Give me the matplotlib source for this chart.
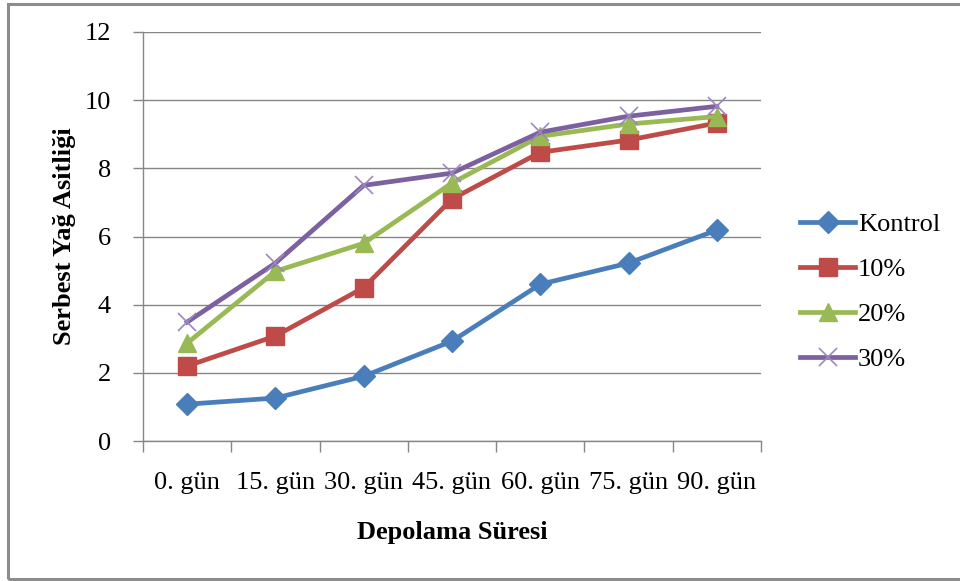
import matplotlib

matplotlib.use("Agg")

import matplotlib.pyplot as plt
from matplotlib.patches import Rectangle

# Veri
gunler = ["0. gün", "15. gün", "30. gün", "45. gün", "60. gün", "75. gün", "90. gün"]
kontrol = [1.08, 1.26, 1.90, 2.93, 4.60, 5.22, 6.19]
yuzde10 = [2.20, 3.08, 4.50, 7.10, 8.47, 8.83, 9.33]
yuzde20 = [2.87, 4.98, 5.80, 7.57, 8.94, 9.30, 9.52]
yuzde30 = [3.49, 5.22, 7.50, 7.86, 9.06, 9.53, 9.82]
seri_adlari = ["Kontrol", "10%", "20%", "30%"]

GRI = "#868686"
plt.rcParams["font.family"] = ["Liberation Serif", "DejaVu Serif"]

fig = plt.figure(figsize=(9.6, 5.81), dpi=100)
ax = fig.add_axes([143 / 960, 1 - 441 / 581, (761 - 143) / 960, (441 - 32) / 581])

# dış çerçeve
fig.patches.append(Rectangle((8 / 960, 2 / 581), 1.2, 575 / 581, transform=fig.transFigure,
                             fill=False, edgecolor="#8c8c8c", linewidth=2.2, zorder=0))

x = list(range(len(gunler)))
stiller = [
    (kontrol, "#4a7ebb", "D", 11, dict()),
    (yuzde10, "#be4b48", "s", 13, dict()),
    (yuzde20, "#98b954", "^", 13, dict()),
    (yuzde30, "#7d60a0", "x", 13, dict(markeredgecolor="#9c87bf", markeredgewidth=1.2)),
]
for (vals, renk, mk, ms, extra), ad in zip(stiller, seri_adlari):
    ax.plot(x, vals, color=renk, linewidth=3.4, marker=mk, markersize=ms, label=ad,
            solid_joinstyle="round", **extra)

ax.set_xlim(-0.5, len(gunler) - 0.5)
ax.set_ylim(0, 12)
ax.set_yticks(range(0, 13, 2))
ax.set_xticks(x)
ax.set_xticklabels(gunler)
ax.set_xticks([i - 0.5 for i in range(len(gunler) + 1)], minor=True)
ax.tick_params(axis="x", which="major", length=0, pad=22, labelsize=19)
ax.tick_params(axis="x", which="minor", length=8, color=GRI, width=1)
ax.tick_params(axis="y", length=7, color=GRI, width=1, pad=16, labelsize=19)

ax.grid(axis="y", color=GRI, linewidth=1)
ax.set_axisbelow(True)
for s in ("top", "right"):
    ax.spines[s].set_visible(False)
for s in ("left", "bottom"):
    ax.spines[s].set_color(GRI)
    ax.spines[s].set_linewidth(1)

ax.set_xlabel("Depolama Süresi", fontsize=19, fontweight="bold", labelpad=20)
ax.set_ylabel("Serbest Yağ Asitliği", fontsize=19, fontweight="bold", labelpad=6)

fig.legend(*ax.get_legend_handles_labels(), loc="center left",
           bbox_to_anchor=(800 / 960, 1 - 292 / 581), frameon=False, fontsize=19,
           handlelength=2.1, handletextpad=0.1, labelspacing=0.82, borderaxespad=0,
           borderpad=0)

fig.savefig("out.png", dpi=100)
